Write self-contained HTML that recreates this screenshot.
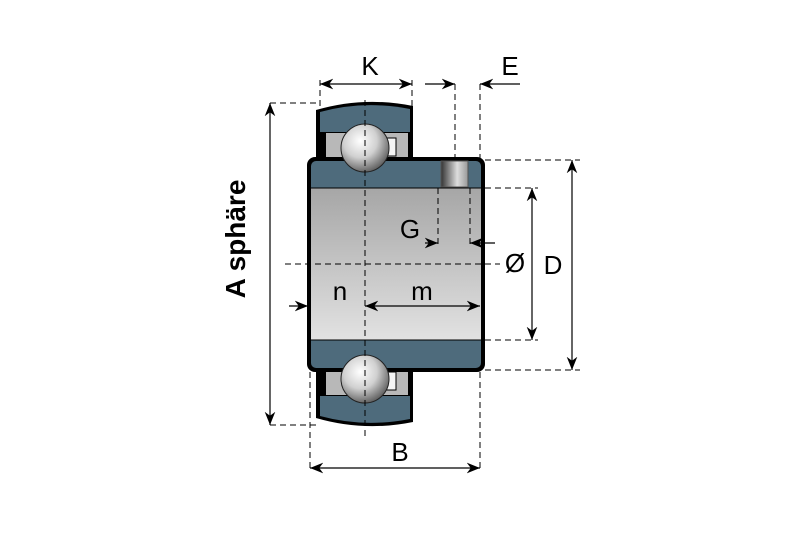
<!DOCTYPE html>
<html><head><style>body{margin:0;background:#fff}svg{display:block}</style></head><body>
<svg width="788" height="539" viewBox="0 0 788 539" xmlns="http://www.w3.org/2000/svg" font-family="Liberation Sans, sans-serif">
<defs>
<linearGradient id="bore" x1="0" y1="0" x2="0" y2="1"><stop offset="0" stop-color="#a6a6a6"/><stop offset="1" stop-color="#e2e2e2"/></linearGradient>
<radialGradient id="ball" cx="0.4" cy="0.35" r="0.7"><stop offset="0" stop-color="#fff"/><stop offset="0.5" stop-color="#d0d0d0"/><stop offset="1" stop-color="#555"/></radialGradient>
<linearGradient id="screw" x1="0" y1="0" x2="1" y2="0"><stop offset="0" stop-color="#333"/><stop offset="0.6" stop-color="#ddd"/><stop offset="1" stop-color="#999"/></linearGradient>
<marker id="a" viewBox="0 0 10 10" refX="10" refY="5" markerWidth="11" markerHeight="11" orient="auto-start-reverse"><path d="M0,1 L10,5 L0,9 L3,5z" fill="#000"/></marker>
</defs>
<path d="M316,160 V110 Q364,96 413,106 V160 Z" fill="#000"/>
<path d="M320,132 V112 Q364,100 410,109 V132 Z" fill="#4e6b7c"/>
<rect x="326" y="133" width="82" height="26" fill="#b8b8b8"/>
<rect x="386" y="138" width="10" height="18" fill="#f4f4f4" stroke="#000"/>
<path d="M316,370 V418 Q364,432 413,422 V370 Z" fill="#000"/>
<path d="M320,396 V416 Q364,428 410,419 V396 Z" fill="#4e6b7c"/>
<rect x="326" y="371" width="82" height="24" fill="#b8b8b8"/>
<rect x="386" y="372" width="10" height="18" fill="#f4f4f4" stroke="#000"/>
<rect x="307" y="157" width="178" height="215" rx="8" fill="#000"/>
<rect x="311" y="161" width="170" height="207" rx="5" fill="#4e6b7c"/>
<rect x="311" y="188" width="170" height="152" fill="url(#bore)"/>
<line x1="311" y1="188" x2="481" y2="188" stroke="#000"/>
<line x1="311" y1="340" x2="481" y2="340" stroke="#000"/>
<rect x="441" y="161" width="27" height="26" fill="url(#screw)" stroke="#555"/>
<circle cx="365" cy="148" r="24" fill="url(#ball)" stroke="#222"/>
<circle cx="365" cy="379" r="24" fill="url(#ball)" stroke="#222"/>
<g stroke="#000" stroke-width="1" stroke-dasharray="6,4" fill="none">
<line x1="270" y1="103" x2="320" y2="103"/>
<line x1="270" y1="425" x2="320" y2="425"/>
<line x1="320" y1="80" x2="320" y2="106"/>
<line x1="412" y1="80" x2="412" y2="106"/>
<line x1="455" y1="84" x2="455" y2="160"/>
<line x1="480" y1="84" x2="480" y2="160"/>
<line x1="438" y1="188" x2="438" y2="248"/>
<line x1="470" y1="188" x2="470" y2="248"/>
<line x1="485" y1="160" x2="580" y2="160"/>
<line x1="485" y1="370" x2="580" y2="370"/>
<line x1="485" y1="188" x2="538" y2="188"/>
<line x1="485" y1="340" x2="538" y2="340"/>
<line x1="285" y1="264" x2="500" y2="264"/>
<line x1="365" y1="100" x2="365" y2="440"/>
<line x1="310" y1="372" x2="310" y2="472"/>
<line x1="480" y1="372" x2="480" y2="472"/>
</g>
<g stroke="#000" stroke-width="1.2" fill="none">
<line x1="320" y1="84" x2="412" y2="84" marker-start="url(#a)" marker-end="url(#a)"/>
<line x1="425" y1="84" x2="455" y2="84" marker-end="url(#a)"/>
<line x1="520" y1="84" x2="480" y2="84" marker-end="url(#a)"/>
<line x1="425" y1="243" x2="438" y2="243" marker-end="url(#a)"/>
<line x1="495" y1="243" x2="470" y2="243" marker-end="url(#a)"/>
<line x1="270" y1="103" x2="270" y2="425" marker-start="url(#a)" marker-end="url(#a)"/>
<line x1="572" y1="160" x2="572" y2="370" marker-start="url(#a)" marker-end="url(#a)"/>
<line x1="532" y1="188" x2="532" y2="340" marker-start="url(#a)" marker-end="url(#a)"/>
<line x1="289" y1="306" x2="308" y2="306" marker-end="url(#a)"/>
<line x1="365" y1="306" x2="480" y2="306" marker-start="url(#a)" marker-end="url(#a)"/>
<line x1="310" y1="468" x2="480" y2="468" marker-start="url(#a)" marker-end="url(#a)"/>
</g>
<g font-size="26" fill="#000" text-anchor="middle">
<text x="370" y="75">K</text>
<text x="510" y="75">E</text>
<text x="410" y="238">G</text>
<text x="515" y="272">Ø</text>
<text x="553" y="274">D</text>
<text x="340" y="300">n</text>
<text x="422" y="300">m</text>
<text x="400" y="461">B</text>
<text transform="translate(245,239) rotate(-90)" font-weight="bold" font-size="28">A sphäre</text>
</g>
</svg>
</body></html>
